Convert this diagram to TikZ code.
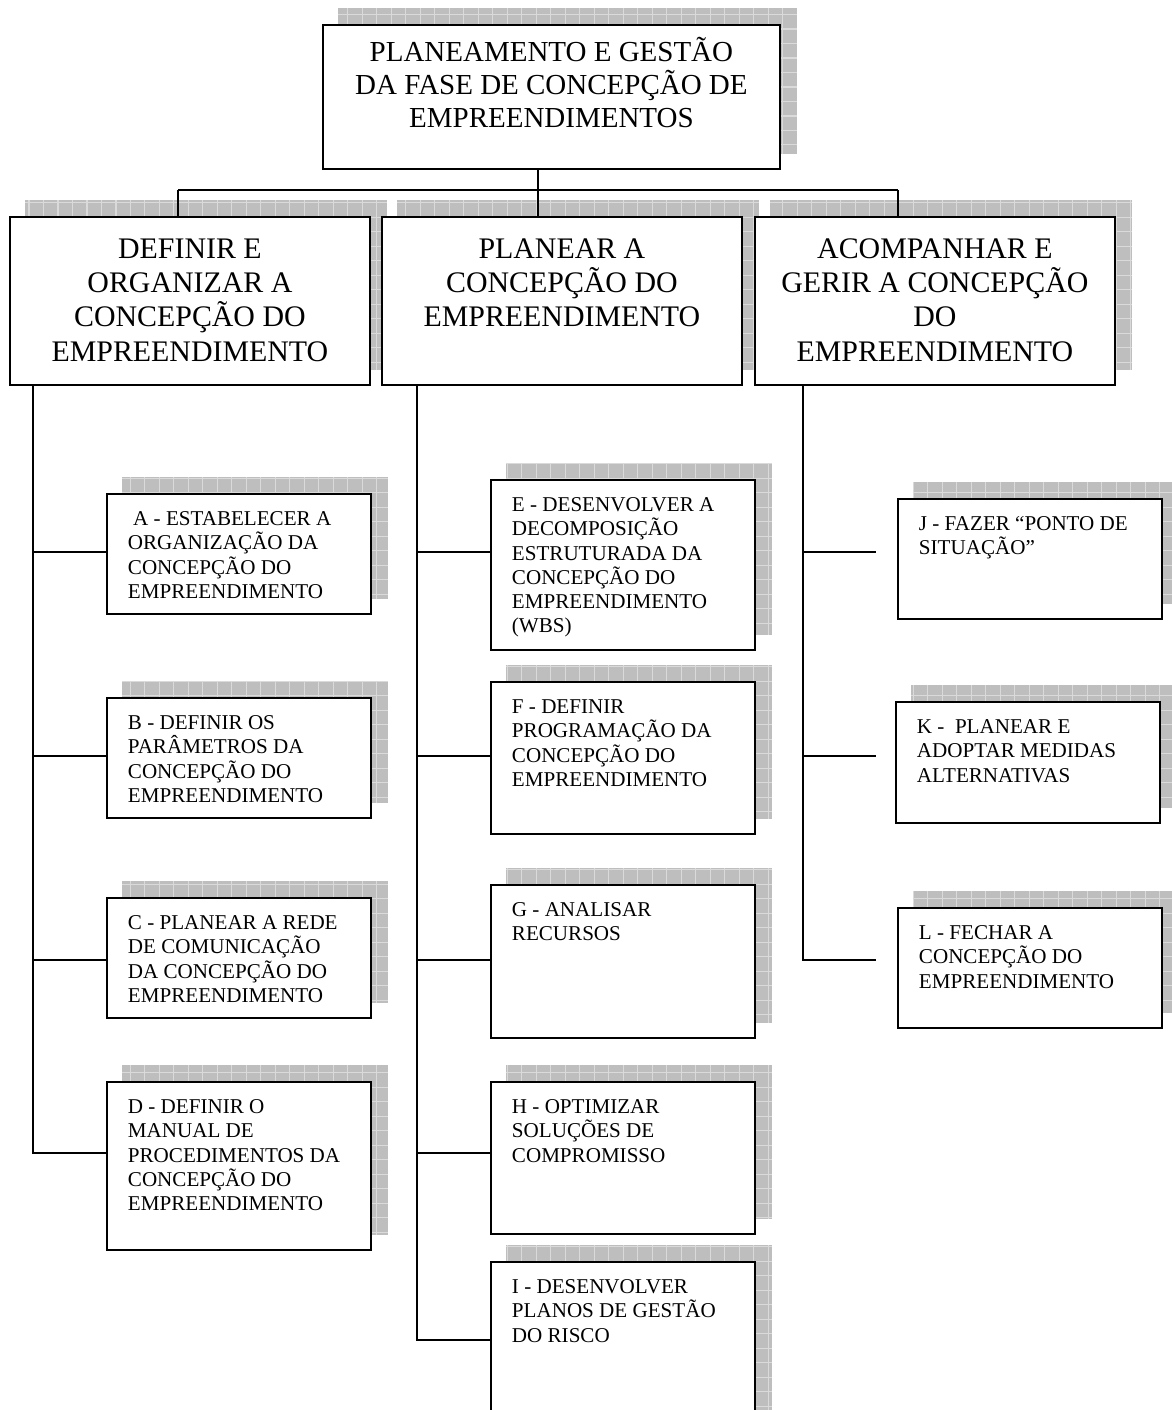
\documentclass[tikz,border=0pt]{standalone}
\usepackage{fontspec}
\setmainfont{Liberation Serif}
\usepackage{tikz}
\usetikzlibrary{backgrounds}
\definecolor{ShadeGrey}{RGB}{190,190,190}
\definecolor{GridGrey}{RGB}{218,218,218}
\newcommand{\headtext}[3]{\parbox[t][#1][t]{#2}{\lineskiplimit=-100pt\centering\vspace*{6.8pt}\strut#3}}
\newcommand{\phasetext}[2]{\parbox[t][3.36cm][t]{7.2cm}{\lineskiplimit=-100pt\centering\vspace*{9.9pt}\strut#2}}
\newcommand{\tasktext}[2]{\parbox[t][#1][t]{5.28cm}{\lineskiplimit=-100pt\vspace*{8.3pt}\leftskip=0.42cm\strut#2}}
\tikzset{
  box/.style={draw, fill=white, line width=1.1pt, anchor=north west, inner sep=0pt},
  headbox/.style={box, font=\fontsize{16.5}{19}\selectfont},
  phasebox/.style={box, font=\fontsize{17}{19.5}\selectfont},
  taskbox/.style={box, font=\fontsize{12}{13.8}\selectfont},
  link/.style={line width=1.1pt},
}

\begin{document}
\begin{tikzpicture}[x=0.02cm,y=-0.02cm]
\useasboundingbox (0,0) rectangle (1172,1410);
\clip (0,0) rectangle (1172,1410);
\node[headbox] (top) at (322,24) {\headtext{2.88cm}{9.14cm}{PLANEAMENTO E GESTÃO\\DA FASE DE CONCEPÇÃO DE\\EMPREENDIMENTOS}};
\node[phasebox] (def) at (9,216) {\phasetext{}{DEFINIR E\\ORGANIZAR A\\CONCEPÇÃO DO\\EMPREENDIMENTO}};
\node[phasebox] (pla) at (381,216) {\phasetext{}{PLANEAR A\\CONCEPÇÃO DO\\EMPREENDIMENTO}};
\node[phasebox] (aco) at (754,216) {\phasetext{}{ACOMPANHAR E\\GERIR A CONCEPÇÃO\\DO\\EMPREENDIMENTO}};
\node[taskbox] (A) at (106,493) {\tasktext{2.4cm}{\ A - ESTABELECER A\\ORGANIZAÇÃO DA\\CONCEPÇÃO DO\\EMPREENDIMENTO}};
\node[taskbox] (B) at (106,697) {\tasktext{2.4cm}{B - DEFINIR OS\\PARÂMETROS DA\\CONCEPÇÃO DO\\EMPREENDIMENTO}};
\node[taskbox] (C) at (106,897) {\tasktext{2.4cm}{C - PLANEAR A REDE\\DE COMUNICAÇÃO\\DA CONCEPÇÃO DO\\EMPREENDIMENTO}};
\node[taskbox] (D) at (106,1081) {\tasktext{3.36cm}{D - DEFINIR O\\MANUAL DE\\PROCEDIMENTOS DA\\CONCEPÇÃO DO\\EMPREENDIMENTO}};
\node[taskbox] (E) at (490,479) {\tasktext{3.4cm}{E - DESENVOLVER A\\DECOMPOSIÇÃO\\ESTRUTURADA DA\\CONCEPÇÃO DO\\EMPREENDIMENTO\\(WBS)}};
\node[taskbox] (F) at (490,681) {\tasktext{3.04cm}{F - DEFINIR\\PROGRAMAÇÃO DA\\CONCEPÇÃO DO\\EMPREENDIMENTO}};
\node[taskbox] (G) at (490,884) {\tasktext{3.06cm}{G - ANALISAR\\RECURSOS}};
\node[taskbox] (H) at (490,1081) {\tasktext{3.04cm}{H - OPTIMIZAR\\SOLUÇÕES DE\\COMPROMISSO}};
\node[taskbox] (I) at (490,1261) {\tasktext{3.4cm}{I - DESENVOLVER\\PLANOS DE GESTÃO\\DO RISCO}};
\node[taskbox] (J) at (897,498) {\tasktext{2.4cm}{J - FAZER “PONTO DE\\SITUAÇÃO”}};
\node[taskbox] (K) at (895,701) {\tasktext{2.42cm}{K -~ PLANEAR E\\ADOPTAR MEDIDAS\\ALTERNATIVAS}};
\node[taskbox] (L) at (897,907) {\tasktext{2.4cm}{L - FECHAR A\\CONCEPÇÃO DO\\EMPREENDIMENTO}};
\begin{scope}[on background layer]
\clip (0,0) rectangle (1172,1410);
\foreach \bx in {top,def,pla,aco,A,B,C,D,E,F,G,H,I,J,K,L}{
  \begin{scope}
  \clip ([shift={(16,-16)}]\bx.south west) rectangle ([shift={(16,-16)}]\bx.north east);
  \fill[ShadeGrey] ([shift={(16,-16)}]\bx.south west) rectangle ([shift={(16,-16)}]\bx.north east);
  \draw[GridGrey, line width=0.6pt, step=0.29cm] ([shift={(16,-16)}]\bx.south west) grid ([shift={(16,-16)}]\bx.north east);
  \end{scope}
}
\end{scope}
\coordinate (bus) at (538,190);
\coordinate (busl) at (178,190);
\coordinate (busr) at (898,190);
\coordinate (tl) at (33,1153);
\coordinate (tm) at (417,1340);
\coordinate (tr) at (803,960);
\coordinate (r1) at (0,552);
\coordinate (r2) at (0,756);
\coordinate (r3) at (0,960);
\coordinate (r4) at (0,1153);
\draw[link] (top.south -| bus) -- (bus);
\draw[link] (busl) -- (busr);
\draw[link] (busl) -- (busl |- def.north);
\draw[link] (bus) -- (bus |- pla.north);
\draw[link] (busr) -- (busr |- aco.north);
\draw[link] (def.south -| tl) |- (D.west |- tl);
\draw[link] (pla.south -| tm) |- (I.west |- tm);
\draw[link] (aco.south -| tr) -- (tr) -- ++(73,0);
\foreach \n/\r in {A/r1,B/r2,C/r3}
  \draw[link] (tl |- \r) -- (\n.west |- \r);
\foreach \n/\r in {E/r1,F/r2,G/r3,H/r4}
  \draw[link] (tm |- \r) -- (\n.west |- \r);
\foreach \r in {r1,r2}
  \draw[link] (tr |- \r) -- ++(73,0);
\end{tikzpicture}
\end{document}
